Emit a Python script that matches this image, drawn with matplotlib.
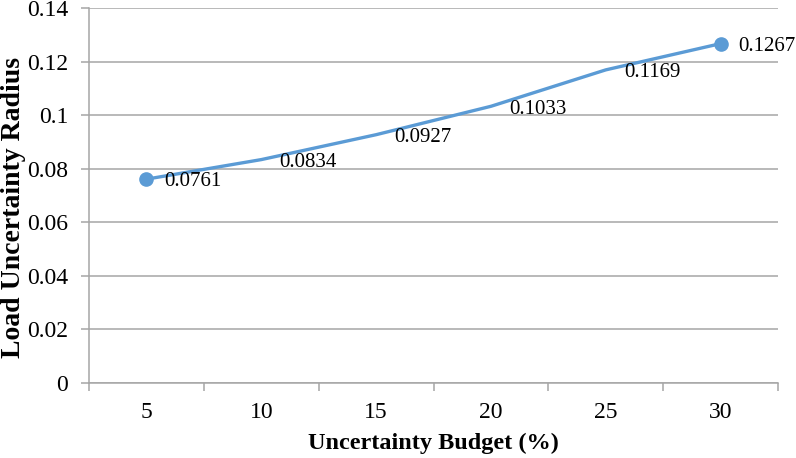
import matplotlib
matplotlib.use('Agg')
from matplotlib import pyplot as plt

# chart data
budget = ['5', '10', '15', '20', '25', '30']
radius = [0.0761, 0.0834, 0.0927, 0.1033, 0.1169, 0.1267]
y_ticks = [0, 0.02, 0.04, 0.06, 0.08, 0.1, 0.12, 0.14]
y_tick_labels = ['0', '0.02', '0.04', '0.06', '0.08', '0.1', '0.12', '0.14']

plt.rcParams['font.family'] = ['Liberation Serif', 'DejaVu Serif']

fig = plt.figure(figsize=(7.96, 4.58), dpi=100)
ax = fig.add_axes([89/796, 1 - 383/458, (778 - 89)/796, (383 - 8)/458])

blue = '#5B9BD5'
grid_col = '#A6A6A6'
x = list(range(len(budget)))

ax.plot(x, radius, color=blue, linewidth=2.4, solid_capstyle='round', zorder=3)
ax.plot([x[0], x[-1]], [radius[0], radius[-1]], 'o', color=blue,
        markersize=9.5, zorder=4)

for xi, v in zip(x, radius):
    ax.annotate('%.4f' % v, (xi, v), xytext=(13, -2), textcoords='offset points',
                ha='left', va='center', fontsize=15, color='black')

ax.set_xlim(-0.5, len(budget) - 0.5)
ax.set_ylim(0, 0.14)
ax.set_yticks(y_ticks)
ax.set_yticklabels(y_tick_labels)
ax.set_xticks(x)
ax.set_xticklabels(budget)
ax.set_xticks([i - 0.5 for i in range(len(budget) + 1)], minor=True)

ax.yaxis.grid(True, color=grid_col, linewidth=1.1)
ax.set_axisbelow(True)
for s in ['top', 'right']:
    ax.spines[s].set_visible(False)
for s in ['left', 'bottom']:
    ax.spines[s].set_color(grid_col)
    ax.spines[s].set_linewidth(1.1)

ax.tick_params(axis='y', length=6, width=1.1, color=grid_col, labelsize=17, pad=9)
ax.tick_params(axis='x', which='major', length=0, labelsize=17, pad=14)
ax.tick_params(axis='x', which='minor', length=6, width=1.1, color=grid_col)

ax.set_xlabel('Uncertainty Budget (%)', fontsize=17.5, fontweight='bold', labelpad=7)
# y title sits a little above the axis centre in the original
fig.text(14/796, 1 - 207/458, 'Load Uncertainty Radius', rotation=90,
         ha='center', va='center', fontsize=20, fontweight='bold')

plt.savefig('out.png', dpi=100)
